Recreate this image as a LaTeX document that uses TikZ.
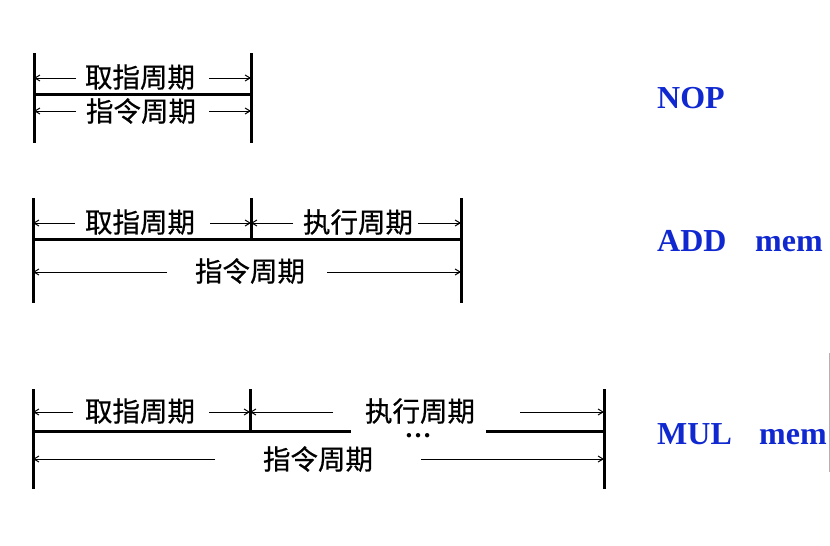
\documentclass[tikz,border=0pt]{standalone}
\usepackage{fontspec}
\setmainfont{Liberation Serif}
\newfontfamily\cjk[FakeBold=0.6,AutoFakeBold=0.6]{Noto Sans CJK SC}
\usetikzlibrary{arrows.meta}
\definecolor{lblue}{RGB}{16,40,208}
\begin{document}
\begin{tikzpicture}[x=1pt,y=-1pt,
  bar/.style={line width=3pt},
  dim/.style={line width=1pt,-{Straight Barb[length=5pt,width=6pt]}},
  cn/.style={font=\cjk\fontsize{27.5}{30}\selectfont, inner sep=0pt},
  lab/.style={font=\bfseries\fontsize{32}{36}\selectfont, text=lblue, anchor=base west, inner sep=0pt}]
\useasboundingbox (0,0) rectangle (830,546);
% ---------------- NOP ----------------
\coordinate (n1t) at (34,53);  \coordinate (n1b) at (34,143);
\coordinate (n2t) at (251,53); \coordinate (n2b) at (251,143);
\coordinate (n1m) at (34,94);  \coordinate (n2m) at (251,94);
\draw[bar] (n1t) -- (n1b);
\draw[bar] (n2t) -- (n2b);
\draw[bar] (n1m) -- (n2m);
\coordinate (n1r1) at (34,78);  \coordinate (n2r1) at (251,78);
\coordinate (n1r2) at (34,111); \coordinate (n2r2) at (251,111);
\node[cn] (nf) at (140,77) {取指周期};
\node[cn] (ni) at (141,111) {指令周期};
\coordinate (nfa) at (76,78);  \coordinate (nfb) at (209,78);
\coordinate (nia) at (76,111); \coordinate (nib) at (209,111);
\draw[dim] (nfa) -- (n1r1);
\draw[dim] (nfb) -- (n2r1);
\draw[dim] (nia) -- (n1r2);
\draw[dim] (nib) -- (n2r2);
\node[lab] (nop) at (657,108) {NOP};
% ---------------- ADD ----------------
\coordinate (d1t) at (33,198);  \coordinate (d1b) at (33,303);
\coordinate (d2t) at (251,198); \coordinate (d2b) at (251,239);
\coordinate (d3t) at (461,198); \coordinate (d3b) at (461,303);
\coordinate (d1m) at (33,239);  \coordinate (d3m) at (461,239);
\draw[bar] (d1t) -- (d1b);
\draw[bar] (d2t) -- (d2b);
\draw[bar] (d3t) -- (d3b);
\draw[bar] (d1m) -- (d3m);
\coordinate (d1r1) at (33,223);  \coordinate (d2r1) at (251,223); \coordinate (d3r1) at (461,223);
\coordinate (d1r2) at (33,272);  \coordinate (d3r2) at (461,272);
\node[cn] (df) at (140,222) {取指周期};
\node[cn] (dx) at (358,222) {执行周期};
\node[cn] (di) at (250,271) {指令周期};
\coordinate (dfa) at (75,223);  \coordinate (dfb) at (210,223);
\coordinate (dxa) at (293,223); \coordinate (dxb) at (418,223);
\coordinate (dia) at (167,272); \coordinate (dib) at (327,272);
\draw[dim] (dfa) -- (d1r1);
\draw[dim] (dfb) -- (d2r1);
\draw[dim] (dxa) -- (d2r1);
\draw[dim] (dxb) -- (d3r1);
\draw[dim] (dia) -- (d1r2);
\draw[dim] (dib) -- (d3r2);
\node[lab] (add) at (657,251) {ADD};
\node[lab] (addm) at (755,251) {mem};
% ---------------- MUL ----------------
\coordinate (m1t) at (33,389);  \coordinate (m1b) at (33,489);
\coordinate (m2t) at (250,389); \coordinate (m2b) at (250,431);
\coordinate (m3t) at (604,389); \coordinate (m3b) at (604,489);
\coordinate (m1m) at (33,431);  \coordinate (mga) at (351,431);
\coordinate (mgb) at (486,431); \coordinate (m3m) at (604,431);
\draw[bar] (m1t) -- (m1b);
\draw[bar] (m2t) -- (m2b);
\draw[bar] (m3t) -- (m3b);
\draw[bar] (m1m) -- (mga);
\draw[bar] (mgb) -- (m3m);
\coordinate (m1r1) at (33,412);  \coordinate (m2r1) at (250,412); \coordinate (m3r1) at (604,412);
\coordinate (m1r2) at (33,459);  \coordinate (m3r2) at (604,459);
\node[cn] (mf) at (140,411) {取指周期};
\node[cn] (mx) at (420,411) {执行周期};
\node[cn] (mi) at (318,459) {指令周期};
\node[inner sep=0pt, anchor=base, text height=4pt, text depth=0pt,
      font=\bfseries\fontsize{27}{30}\selectfont] (dots) at (418,437) {…};
\coordinate (mfa) at (73,412);  \coordinate (mfb) at (209,412);
\coordinate (mxa) at (333,412); \coordinate (mxb) at (520,412);
\coordinate (mia) at (215,459); \coordinate (mib) at (421,459);
\draw[dim] (mfa) -- (m1r1);
\draw[dim] (mfb) -- (m2r1);
\draw[dim] (mxa) -- (m2r1);
\draw[dim] (mxb) -- (m3r1);
\draw[dim] (mia) -- (m1r2);
\draw[dim] (mib) -- (m3r2);
\node[lab] (mul) at (657,444) {MUL};
\node[lab] (mulm) at (759,444) {mem};
% faint edge line
\coordinate (ea) at (829.3,353); \coordinate (eb) at (829.3,472);
\draw[gray!60, line width=1pt] (ea) -- (eb);
\end{tikzpicture}
\end{document}
